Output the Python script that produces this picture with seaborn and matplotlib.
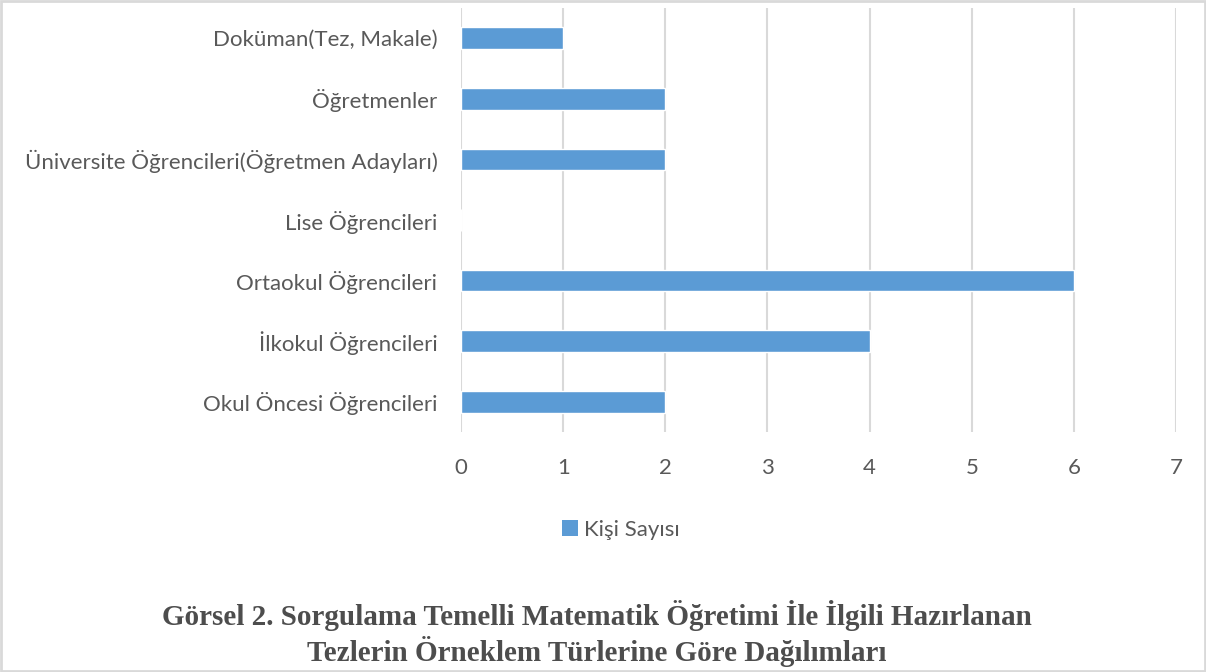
import matplotlib
matplotlib.use('Agg')
import matplotlib.pyplot as plt
import pandas as pd
import seaborn as sns
from matplotlib.patches import Rectangle, Patch

categories = [
    'Doküman(Tez, Makale)',
    'Öğretmenler',
    'Üniversite Öğrencileri(Öğretmen Adayları)',
    'Lise Öğrencileri',
    'Ortaokul Öğrencileri',
    'İlkokul Öğrencileri',
    'Okul Öncesi Öğrencileri',
]
counts = [1, 2, 2, 0, 6, 4, 2]
x_ticks = [0, 1, 2, 3, 4, 5, 6, 7]
series_name = 'Kişi Sayısı'
title = ('Görsel 2. Sorgulama Temelli Matematik Öğretimi İle İlgili Hazırlanan\n'
         'Tezlerin Örneklem Türlerine Göre Dağılımları')

BAR = '#5b9bd5'
TXT = '#595959'
GRID = '#d9d9d9'

sns.set_style('white')
plt.rcParams['font.family'] = ['Lato', 'DejaVu Sans']

df = pd.DataFrame({'kategori': categories, 'sayi': counts})

fig = plt.figure(figsize=(12.06, 6.72), dpi=100)
ax = fig.add_axes([0.3823, 0.3571, 0.5929, 0.631])

sns.barplot(data=df, x='sayi', y='kategori', color=BAR, width=0.36,
            saturation=1, ax=ax, zorder=3)

ax.set_xlim(0, 7)
ax.set_ylim(6.5, -0.5)
ax.set_xticks(x_ticks)
ax.xaxis.grid(True, color=GRID, linewidth=1.5, zorder=0)
ax.set_axisbelow(True)
for s in ax.spines.values():
    s.set_visible(False)
ax.set_xlabel('')
ax.set_ylabel('')
ax.tick_params(axis='x', length=0, pad=19, labelsize=16, labelcolor=TXT)
ax.tick_params(axis='y', length=0, pad=17, labelsize=16, labelcolor=TXT)

handle = Patch(facecolor=BAR, edgecolor='none')
fig.legend([handle], [series_name], loc='center', bbox_to_anchor=(0.515, 0.212),
           frameon=False, fontsize=16, labelcolor=TXT, handlelength=0.7,
           handleheight=0.7, handletextpad=0.3)

fig.text(0.495, 0.057, title, ha='center', va='center', fontsize=21,
         fontweight='bold', family=['Liberation Serif', 'DejaVu Serif'],
         color='#4d4d4d', linespacing=1.19)

fig.patches.append(Rectangle((0.001, 0.002), 0.998, 0.996, transform=fig.transFigure,
                             fill=False, edgecolor=GRID, linewidth=2))

fig.savefig('out.png', dpi=100)
